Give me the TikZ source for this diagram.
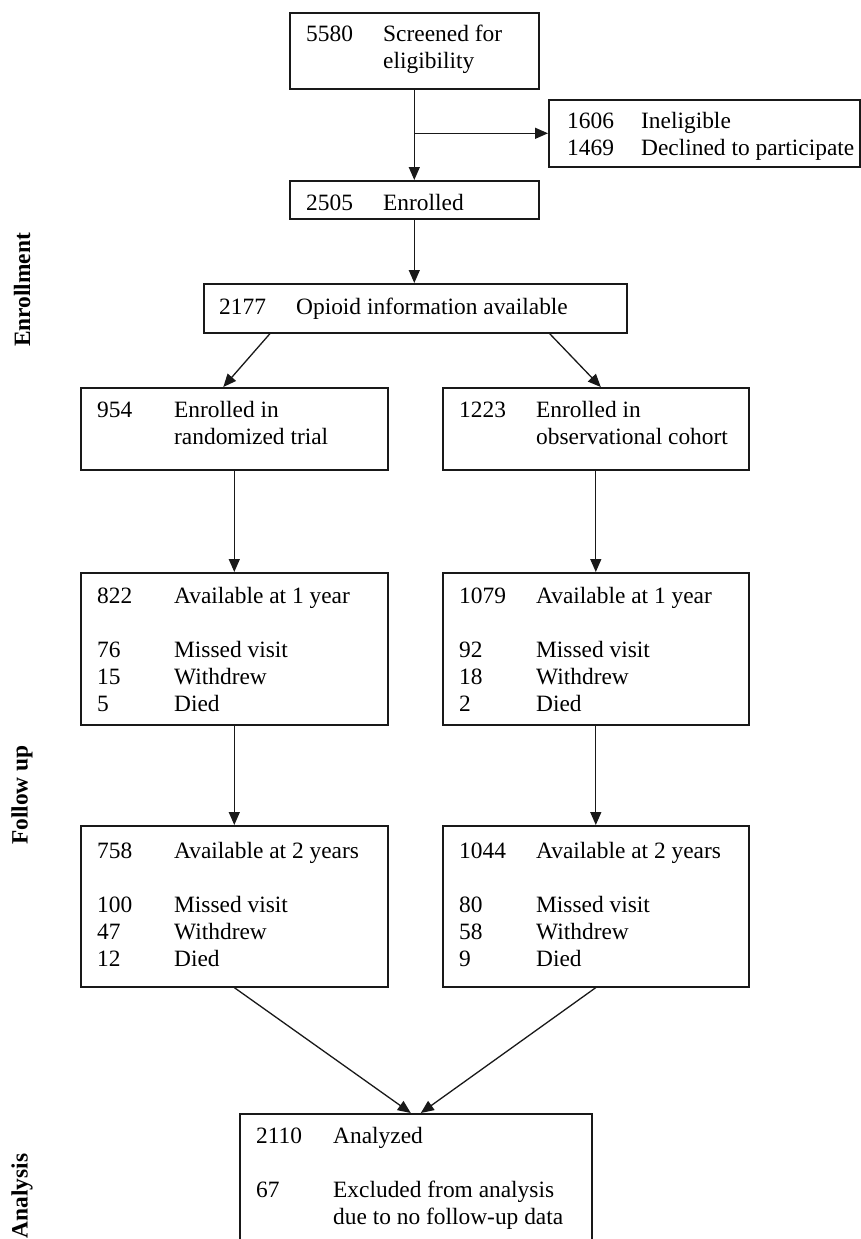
\documentclass[tikz,border=0pt]{standalone}
\usepackage{fontspec}
\setmainfont{Liberation Serif}
\usetikzlibrary{arrows.meta,calc}
\tikzset{
  box/.style={draw=black!90, line width=1.6pt, rectangle, inner sep=0pt, anchor=north west},
  txt/.style={anchor=base west, inner sep=0pt, font=\fontsize{23.4pt}{27pt}\selectfont},
  conn/.style={draw=black!90, line width=1.3pt, -{Triangle[length=13pt,width=11pt]}},
  phase/.style={rotate=90, inner sep=0pt, font=\fontsize{23.4pt}{27pt}\selectfont\bfseries},
}
\newcommand{\tworows}[2][77pt]{\begin{tabular}[t]{@{}p{#1}@{}l@{}}#2\end{tabular}}
\begin{document}
\begin{tikzpicture}[x=1pt,y=-1pt]
\useasboundingbox (0,0) rectangle (861,1239);
\clip (0,0) rectangle (861,1239);

% boxes
\node[box, minimum width=249pt, minimum height=76pt] (scr) at (289,12) {};
\node[box, minimum width=311pt, minimum height=67pt] (inel) at (548,99) {};
\node[box, minimum width=249pt, minimum height=38pt] (enr) at (289,180) {};
\node[box, minimum width=423pt, minimum height=49pt] (opi) at (203,283) {};
\node[box, minimum width=307pt, minimum height=82pt] (rand) at (80,387) {};
\node[box, minimum width=306pt, minimum height=82pt] (obs) at (442,387) {};
\node[box, minimum width=307pt, minimum height=152pt] (a1l) at (80,572) {};
\node[box, minimum width=306pt, minimum height=152pt] (a1r) at (442,572) {};
\node[box, minimum width=307pt, minimum height=161pt] (a2l) at (80,825) {};
\node[box, minimum width=306pt, minimum height=161pt] (a2r) at (442,825) {};
\node[box, minimum width=352pt, minimum height=150pt] (ana) at (239,1113) {};

% texts
\node[txt] (scrt) at (306,42) {\tworows{5580 & Screened for\\ & eligibility}};
\node[txt] (inelt) at (567,128) {\tworows[74pt]{1606 & Ineligible\\ 1469 & Declined to participate}};
\node[txt] (enrt) at (306,210) {\tworows{2505 & Enrolled}};
\node[txt] (opit) at (219,314) {\tworows{2177 & Opioid information available}};
\node[txt] (randt) at (97,417) {\tworows{954 & Enrolled in\\ & randomized trial}};
\node[txt] (obst) at (459,417) {\tworows{1223 & Enrolled in\\ & observational cohort}};
\node[txt] (a1lt) at (97,603) {\tworows{822 & Available at 1 year\\ & \\ 76 & Missed visit\\ 15 & Withdrew\\ 5 & Died}};
\node[txt] (a1rt) at (459,603) {\tworows{1079 & Available at 1 year\\ & \\ 92 & Missed visit\\ 18 & Withdrew\\ 2 & Died}};
\node[txt] (a2lt) at (97,858) {\tworows{758 & Available at 2 years\\ & \\ 100 & Missed visit\\ 47 & Withdrew\\ 12 & Died}};
\node[txt] (a2rt) at (459,858) {\tworows{1044 & Available at 2 years\\ & \\ 80 & Missed visit\\ 58 & Withdrew\\ 9 & Died}};
\node[txt] (anat) at (256,1143) {\tworows{2110 & Analyzed\\ & \\ 67 & Excluded from analysis\\ & due to no follow-up data}};

% phase labels
\node[phase] (lenr) at (22,290) {Enrollment};
\node[phase] (lfol) at (22,795) {Follow up};
\node[phase] (lana) at (22,1196) {Analysis};

% connectors
\coordinate (br) at (enr.north |- inel.west);
\draw[conn] (scr.south) -- (enr.north);
\draw[conn] (br) -- (inel.west);
\draw[conn] (enr.south) -- (enr.south |- opi.north);
\draw[conn] ($(opi.south west)+(67,0)$) -- ($(rand.north)+(-11,0)$);
\draw[conn] ($(opi.south east)+(-78,0)$) -- ($(obs.north)+(5,0)$);
\draw[conn] (rand.south) -- (a1l.north);
\draw[conn] (obs.south) -- (a1r.north);
\draw[conn] (a1l.south) -- (a2l.north);
\draw[conn] (a1r.south) -- (a2r.north);
\draw[conn] (a2l.south) -- ($(ana.north)+(-5,0)$);
\draw[conn] (a2r.south) -- ($(ana.north)+(5,0)$);
\end{tikzpicture}
\end{document}
